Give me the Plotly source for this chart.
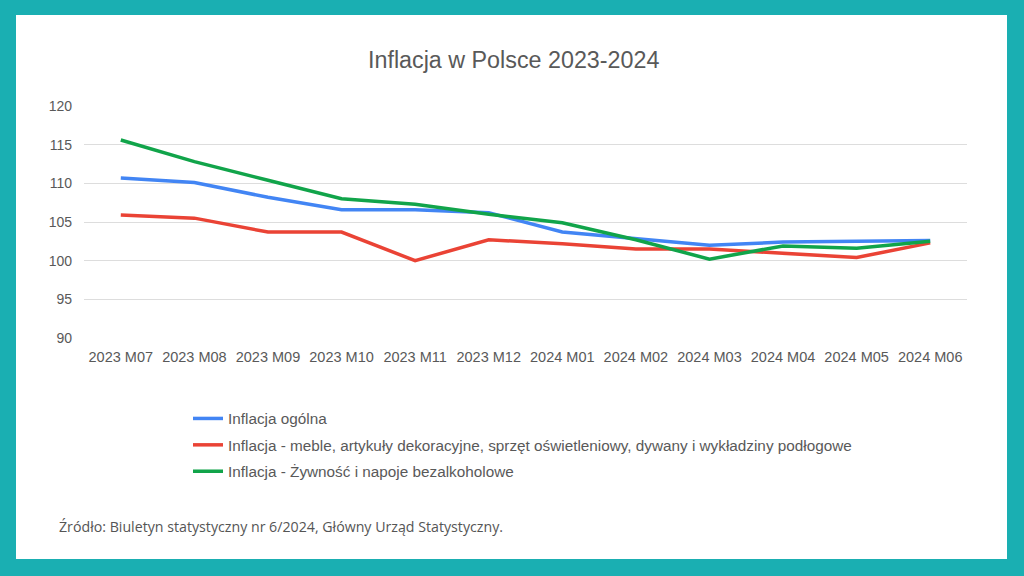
import plotly.graph_objects as go

months = ["2023 M07", "2023 M08", "2023 M09", "2023 M10", "2023 M11", "2023 M12",
          "2024 M01", "2024 M02", "2024 M03", "2024 M04", "2024 M05", "2024 M06"]
ogolna = [110.7, 110.1, 108.2, 106.6, 106.6, 106.2, 103.7, 102.9, 102.0, 102.4, 102.5, 102.6]
meble = [105.9, 105.5, 103.7, 103.7, 100.0, 102.7, 102.2, 101.5, 101.5, 101.0, 100.4, 102.3]
zywnosc = [115.6, 112.8, 110.4, 108.0, 107.3, 106.0, 104.9, 102.7, 100.2, 101.9, 101.6, 102.5]

names = ["Inflacja ogólna",
         "Inflacja - meble, artykuły dekoracyjne, sprzęt oświetleniowy, dywany i wykładziny podłogowe",
         "Inflacja - Żywność i napoje bezalkoholowe"]
colors = ["#4285F4", "#EA4335", "#11A44A"]

fig = go.Figure()
for i, (vals, nm, col) in enumerate(zip([ogolna, meble, zywnosc], names, colors)):
    fig.add_trace(go.Scatter(x=months, y=vals, mode="lines", name=nm,
                             legendgroup=f"g{i}",
                             line=dict(color=col, width=3.5)))

L, R, T, B = 84, 57, 106, 238
W, H = 1024, 576
pw = W - L - R
ph = H - T - B

def px_x(p):
    return (p - L) / pw

def px_y(p):
    return (H - B - p) / ph

fig.add_shape(type="rect", xref="paper", yref="paper",
              x0=px_x(16), x1=px_x(1007), y0=px_y(559), y1=px_y(15),
              fillcolor="white", line=dict(width=0), layer="below")

fig.add_annotation(text="Inflacja w Polsce 2023-2024", xref="paper", yref="paper",
                   x=px_x(513), y=px_y(60), showarrow=False, yanchor="middle",
                   font=dict(family="Liberation Sans, Arial", size=23.3, color="#595959"))

fig.add_annotation(text="Źródło: Biuletyn statystyczny nr 6/2024, Główny Urząd Statystyczny.",
                   xref="paper", yref="paper", x=px_x(57), y=px_y(526),
                   xanchor="left", yanchor="middle", showarrow=False,
                   font=dict(family="Open Sans", size=14.2, color="#555555"))

fig.update_layout(
    width=W, height=H,
    margin=dict(l=L, r=R, t=T, b=B, autoexpand=False),
    paper_bgcolor="#1AAFB2",
    plot_bgcolor="rgba(0,0,0,0)",
    font=dict(family="Liberation Sans, Arial", size=14, color="#595959"),
    showlegend=True,
    legend=dict(orientation="v", x=px_x(188), y=px_y(402), xanchor="left", yanchor="top",
                tracegroupgap=3.5, bgcolor="rgba(0,0,0,0)",
                font=dict(family="Liberation Sans, Arial", size=15.3, color="#595959")),
    xaxis=dict(type="category", range=[-0.5, 11.5], showgrid=False, zeroline=False,
               showline=False, ticks="", tickfont=dict(size=14.5, color="#595959"),
               tickangle=0, ticklabelstandoff=8),
    yaxis=dict(range=[90, 120], dtick=5, tick0=90, showgrid=True, gridcolor="#DDDDDD",
               gridwidth=1, zeroline=False, showline=False, ticks="",
               ticklabelstandoff=11,
               tickfont=dict(size=14, color="#595959")),
)

fig.write_html("out.html", config={"displayModeBar": False},
               post_script="document.body.style.margin='0';document.body.style.background='#1AAFB2';window.dispatchEvent(new Event('resize'));")
